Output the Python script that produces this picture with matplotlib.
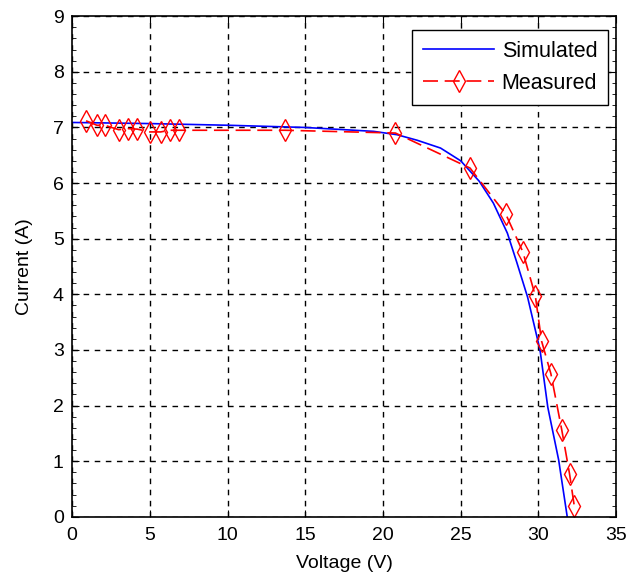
import numpy as np
import matplotlib
matplotlib.use("Agg")
import matplotlib.pyplot as plt
from matplotlib.ticker import MultipleLocator

# data
sim_v = [0, 5, 10, 15, 19.4, 20.9, 22.2, 23.7, 25.0, 26.2, 27.1, 28.0, 28.6, 29.3, 30.1, 30.6, 31.3, 31.85]
sim_i = [7.09, 7.07, 7.04, 7.00, 6.93, 6.87, 6.77, 6.63, 6.40, 6.03, 5.64, 5.10, 4.58, 3.95, 3.00, 1.97, 1.02, 0.0]

meas_v = [0.9, 1.6, 2.1, 3.0, 3.6, 4.2, 5.0, 5.7, 6.3, 6.9, 13.7, 20.8, 25.6, 27.9, 29.0, 29.8, 30.2, 30.8, 31.5, 32.0, 32.3]
meas_i = [7.12, 7.04, 7.04, 6.96, 6.98, 6.97, 6.92, 6.92, 6.95, 6.95, 6.95, 6.90, 6.27, 5.44, 4.76, 3.97, 3.16, 2.57, 1.56, 0.77, 0.20]

plt.rcParams["font.family"] = ["Liberation Sans", "DejaVu Sans"]
plt.rcParams["font.size"] = 14

fig = plt.figure(figsize=(6.32, 5.8), dpi=100)
ax = fig.add_axes([0.114, 0.109, 0.861, 0.863])

ax.plot(sim_v, sim_i, color="blue", lw=1.2, label="Simulated")
ax.plot(meas_v, meas_i, color="red", lw=1.2, ls=(0, (9, 4)), marker="d",
        markersize=11, markerfacecolor="none", markeredgecolor="red",
        markeredgewidth=1.0, label="Measured")

ax.set_xlim(0, 35)
ax.set_ylim(0, 9)
ax.set_xticks(np.arange(0, 36, 5))
ax.set_yticks(np.arange(0, 10, 1))
ax.yaxis.set_minor_locator(MultipleLocator(0.2))
ax.grid(True, which="major", color="black", ls=(0, (4, 4)), lw=1.0)
ax.tick_params(which="both", direction="in", top=True, right=True)
ax.tick_params(which="major", length=5)
ax.tick_params(which="minor", length=3)
ax.tick_params(axis="x", pad=7)
ax.tick_params(axis="y", pad=6)
for s in ax.spines.values():
    s.set_linewidth(1.2)

ax.set_xlabel("Voltage (V)", labelpad=8)
ax.set_ylabel("Current (A)", labelpad=14)

leg = ax.legend(loc="upper right", bbox_to_anchor=(0.985, 0.972),
                fontsize=15.5, fancybox=False, framealpha=1,
                edgecolor="black", handlelength=3.3, handletextpad=0.35,
                labelspacing=0.5, borderpad=0.5, borderaxespad=0)
leg.get_frame().set_linewidth(1.0)

fig.savefig("out.png", dpi=100)
